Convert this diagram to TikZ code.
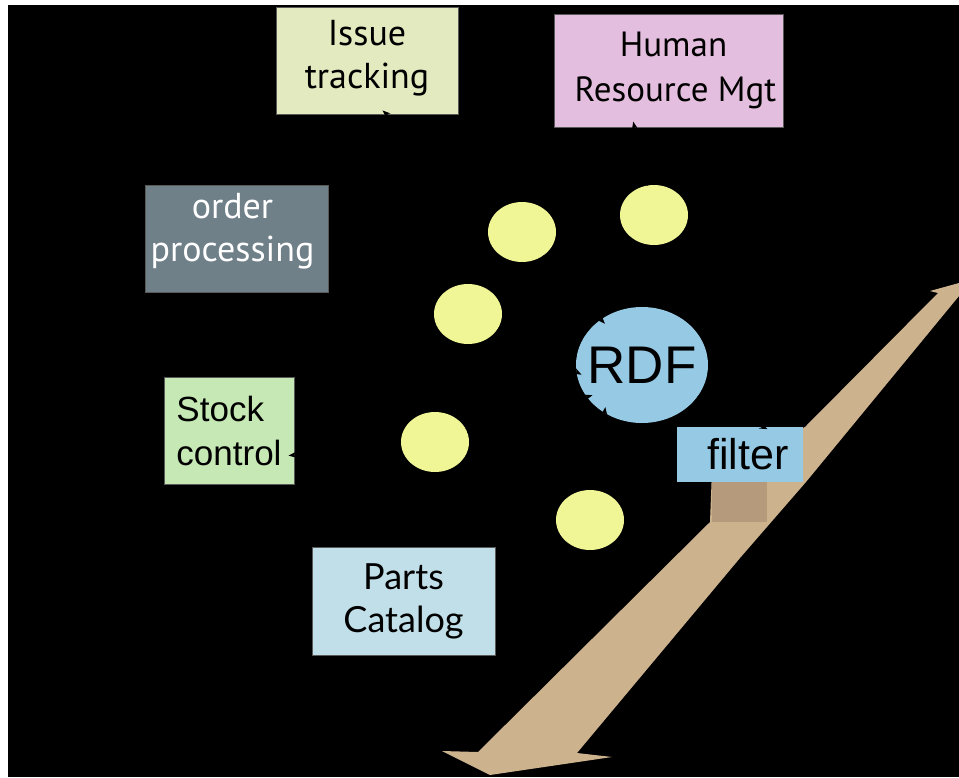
\documentclass[tikz,border=0pt]{standalone}
\usepackage{fontspec}
\setmainfont{Liberation Sans}
\newfontfamily\humanist{PT Sans}
\newfontfamily\casual{Lato}
\usetikzlibrary{shapes.geometric,arrows.meta,calc}

\definecolor{issuecol}{RGB}{227,234,191}
\definecolor{hrcol}{RGB}{228,190,222}
\definecolor{ordercol}{RGB}{111,128,137}
\definecolor{stockcol}{RGB}{198,232,180}
\definecolor{partscol}{RGB}{193,223,232}
\definecolor{rdfcol}{RGB}{150,202,228}
\definecolor{dotcol}{RGB}{240,245,150}
\definecolor{bandcol}{RGB}{205,178,142}
\definecolor{banddark}{RGB}{181,155,124}

\tikzset{
  box/.style={rectangle, draw=black!65, line width=0.8pt, inner sep=0pt, align=center},
  dot/.style={ellipse, fill=dotcol, minimum width=68pt, minimum height=60pt, inner sep=0pt},
  link/.style={black, line width=1pt, -{Stealth[length=8pt,width=6pt]}, shorten >=-6pt},
}

\begin{document}
\begin{tikzpicture}[x=1pt,y=-1pt]
  % page and dark canvas
  \fill[white] (0,0) rectangle (959,777);
  \useasboundingbox (0,0) rectangle (959,777);
  \fill[black] (8,5) rectangle (959,777);

  % tan block arrow passing behind the filter
  \fill[bandcol] (959,283) -- (959,296) -- (806,482) -- (740,558) -- (577,753)
     -- (612,757) -- (490,775) -- (442,751) -- (478,752) -- (710,522)
     -- (712,470) -- (805,427) -- (938,293) -- (930,291) -- cycle;
  \fill[banddark] (712,482) rectangle (767,522);

  % application boxes
  \node[box, fill=issuecol, minimum width=182pt, minimum height=107pt,
        label={[align=center, yshift=2.5pt, font=\humanist\fontsize{36}{43}\selectfont]center:Issue\\tracking}]
        (issue) at (367,60.5) {};
  \node[box, fill=hrcol, minimum width=229pt, minimum height=113pt,
        font=\humanist\fontsize{35}{45}\selectfont] (hr) at (668.5,70.5) {\hspace*{10pt}Human\\\hspace*{14pt}Resource Mgt};
  \node[box, fill=ordercol, minimum width=183pt, minimum height=107pt,
        label={[align=center, text=white, yshift=7pt, xshift=-4pt, font=\humanist\fontsize{36}{43}\selectfont]center:order\\processing}]
        (order) at (236.5,238.5) {};
  \node[box, fill=stockcol, minimum width=130pt, minimum height=107pt, align=left,
        font=\fontsize{35}{44}\selectfont] (stock) at (229,431) {Stock\\control};
  \node[box, fill=partscol, minimum width=183pt, minimum height=108pt,
        font=\casual\fontsize{36}{43}\selectfont] (parts) at (403.5,601) {Parts\\Catalog};

  % central store
  \node[ellipse, fill=rdfcol, minimum width=132pt, minimum height=116pt, inner sep=0pt,
        label={[font=\fontsize{53}{53}\selectfont]center:RDF}] (rdf) at (642,365) {};
  \node[box, draw=none, fill=rdfcol, minimum width=126pt, minimum height=55pt,
        font=\fontsize{43}{43}\selectfont] (filter) at (740,454.5) {\hspace*{16pt}filter};

  % wrappers
  \node[dot] (e1) at (522,232) {};
  \node[dot] (e2) at (654,215) {};
  \node[dot] (e3) at (468,314) {};
  \node[dot] (e4) at (435,442) {};
  \node[dot] (e5) at (590,520) {};

  % links
  \draw[link] (e1) -- ($(issue.south)+(20,0)$);
  \draw[link] (e2) -- ($(hr.south)+(-34,0)$);
  \draw[link] (e4) -- ($(stock.east)+(0,24)$);
  \draw[link] (e1) -- (rdf.132);
  \draw[link] (e3) -- (rdf.186);
  \draw[link] (e4) -- (rdf.210);
  \draw[link] (e5) -- (rdf.232);
  \draw[link] (rdf.-30) -- ($(filter.north)+(22,0)$);
\end{tikzpicture}
\end{document}
